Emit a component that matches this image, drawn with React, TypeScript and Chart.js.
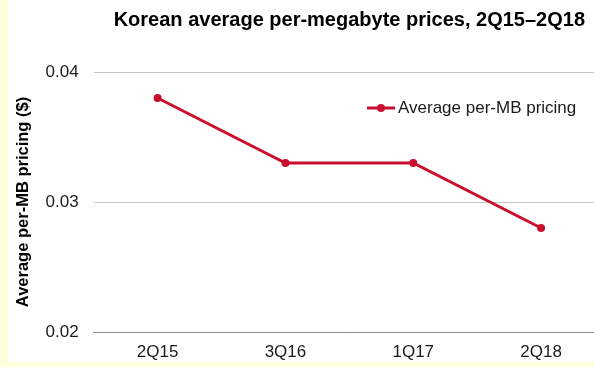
import React, { useEffect, useRef } from "react";
import { Chart, registerables } from "chart.js";

Chart.register(...registerables);

const categories = ["2Q15", "3Q16", "1Q17", "2Q18"];
const pricing = [0.038, 0.033, 0.033, 0.028];
const seriesLabel = "Average per-MB pricing";
const yTicks = [0.02, 0.03, 0.04];
const titleText = "Korean average per-megabyte prices, 2Q15\u20132Q18";
const yTitle = "Average per-MB pricing ($)";

const FONT = "'Liberation Sans', Arial, sans-serif";
const RED = "#C8102E";

const legendPlugin = {
  id: "insideLegend",
  afterDraw(chart: any) {
    const ctx = chart.ctx;
    const ds = chart.data.datasets[0];
    const x0 = 359;
    const y0 = 108;
    ctx.save();
    ctx.strokeStyle = RED;
    ctx.lineWidth = 3;
    ctx.beginPath();
    ctx.moveTo(x0, y0);
    ctx.lineTo(x0 + 28, y0);
    ctx.stroke();
    ctx.fillStyle = RED;
    ctx.beginPath();
    ctx.arc(x0 + 14, y0, 4, 0, Math.PI * 2);
    ctx.fill();
    ctx.fillStyle = "#1a1a1a";
    ctx.font = `17px ${FONT}`;
    ctx.textBaseline = "middle";
    ctx.textAlign = "left";
    ctx.fillText(ds.label, x0 + 31, y0);
    ctx.restore();
  },
};

export default function App() {
  const ref = useRef<HTMLCanvasElement>(null);
  useEffect(() => {
    const chart = new Chart(ref.current!, {
      type: "line",
      data: {
        labels: categories,
        datasets: [
          {
            label: seriesLabel,
            data: pricing,
            borderColor: RED,
            backgroundColor: RED,
            borderWidth: 3,
            pointRadius: 4,
            pointBackgroundColor: RED,
            pointBorderWidth: 0,
            tension: 0,
          },
        ],
      },
      options: {
        animation: false,
        responsive: false,
        layout: { padding: { top: 0, left: 0, right: 0, bottom: 0 } },
        plugins: {
          legend: { display: false },
          tooltip: { enabled: false },
          title: {
            display: true,
            fullSize: false,
            text: titleText,
            color: "#000",
            font: { family: FONT, size: 20, weight: "bold" },
            padding: { top: 8, bottom: 40 },
          },
        },
        scales: {
          x: {
            type: "category",
            offset: true,
            grid: { display: false, drawTicks: false },
            border: { display: true, color: "#8c8c8c", width: 1 },
            ticks: {
              color: "#1a1a1a",
              font: { family: FONT, size: 17 },
              padding: 10,
              maxRotation: 0,
              autoSkip: false,
            },
            afterFit(scale: any) {
              scale.height = 29;
            },
          },
          y: {
            min: 0.02,
            max: 0.04,
            afterBuildTicks(scale: any) {
              scale.ticks = yTicks.map((v) => ({ value: v }));
            },
            grid: { color: "#c4c4c4", drawTicks: false, lineWidth: 1 },
            border: { display: false },
            ticks: {
              color: "#1a1a1a",
              font: { family: FONT, size: 17 },
              padding: 15,
              callback: (v: any) => Number(v).toFixed(2),
            },
            title: {
              display: true,
              text: yTitle,
              color: "#000",
              font: { family: FONT, size: 16.5, weight: "bold" },
              padding: { top: 6, bottom: 0 },
            },
            afterFit(scale: any) {
              scale.width = 85.7;
            },
          },
        },
      },
      plugins: [legendPlugin],
    });
    return () => chart.destroy();
  }, []);

  return (
    <div
      style={{
        position: "fixed",
        left: 0,
        top: 0,
        width: 594,
        height: 367,
        background: "#FFFFDC",
        overflow: "hidden",
      }}
    >
      <div
        style={{
          position: "absolute",
          left: 8,
          top: 0,
          width: 586,
          height: 362,
          background: "#fff",
          overflow: "hidden",
        }}
      >
        <canvas ref={ref} width={601} height={361} style={{ display: "block" }} />
      </div>
    </div>
  );
}
